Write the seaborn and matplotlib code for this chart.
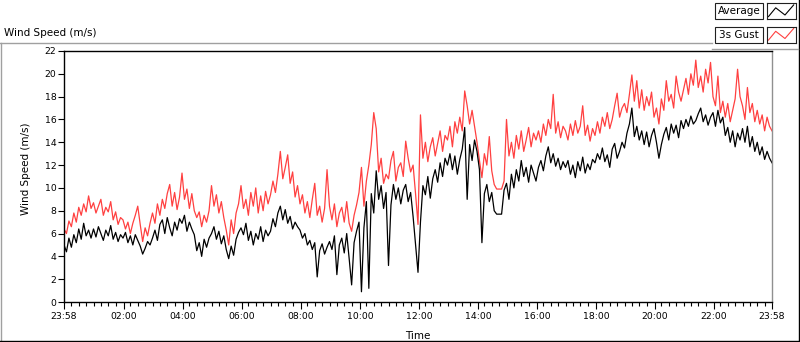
import numpy as np
import pandas as pd
import matplotlib
matplotlib.use("Agg")
import matplotlib.pyplot as plt
import matplotlib.dates as mdates
from matplotlib.lines import Line2D
from matplotlib.patches import Rectangle
import seaborn as sns

# WIND DATA - 5 minute samples, 23:58 -> 23:58 next day (one row per hour)

start_time = "2021-03-01 23:58"

avg_speed = [
    5.0, 4.4, 5.6, 4.8, 5.9, 5.2, 6.4, 5.5, 6.9, 5.8, 6.3, 5.6,
    6.4, 5.7, 6.6, 6.0, 5.4, 6.3, 5.8, 6.7, 5.5, 6.1, 5.3, 5.9,
    5.6, 6.1, 5.2, 5.8, 5.0, 5.9, 5.4, 4.9, 4.2, 4.7, 5.3, 5.0,
    5.6, 6.3, 5.4, 6.8, 7.2, 6.0, 7.4, 6.5, 5.8, 7.0, 6.3, 7.3,
    6.9, 7.6, 6.2, 7.0, 6.4, 5.9, 4.5, 5.2, 4.0, 5.5, 4.8, 5.6,
    6.0, 6.6, 5.5, 6.2, 5.1, 5.8, 4.6, 3.8, 4.9, 4.1, 5.5, 6.1,
    6.5, 5.9, 6.9, 5.4, 6.2, 5.0, 6.0, 5.5, 6.6, 5.3, 6.3, 5.8,
    6.2, 7.3, 6.6, 7.8, 8.4, 7.2, 8.1, 6.9, 7.5, 6.4, 7.0, 6.6,
    6.3, 5.6, 6.0, 5.0, 5.4, 4.6, 5.2, 2.2, 4.5, 5.1, 4.2, 4.8,
    5.3, 4.6, 5.8, 2.4, 5.0, 5.6, 4.3, 6.0, 3.8, 1.5, 5.2, 6.2,
    7.0, 0.9, 6.5, 8.8, 1.2, 9.5, 7.8, 11.5, 9.0, 10.2, 8.2, 9.6,
    3.2, 8.5, 10.3, 9.0, 10.0, 8.6, 9.8, 10.3, 8.8, 9.6, 7.5, 5.0,
    2.6, 7.0, 10.2, 9.4, 11.0, 9.1, 10.8, 11.6, 10.5, 12.2, 11.0, 12.6,
    12.0, 13.0, 11.6, 12.8, 11.2, 12.5, 13.4, 15.3, 9.0, 13.8, 12.4, 14.2,
    13.2, 11.6, 5.2, 9.5, 10.3, 8.8, 9.6, 8.0, 7.7, 7.7, 7.7, 9.8,
    10.4, 9.0, 11.2, 10.0, 11.6, 10.6, 12.4, 11.0, 11.8, 10.5, 12.0, 11.3,
    10.6, 11.8, 12.4, 11.5, 12.8, 13.6, 12.2, 13.0, 11.9, 12.6, 11.6, 12.3,
    11.8, 12.4, 11.2, 12.0, 10.9, 12.3, 11.5, 12.7, 11.3, 12.1, 11.6, 12.5,
    12.2, 13.0, 12.5, 13.5, 12.3, 12.9, 11.8, 13.4, 13.9, 12.6, 13.2, 14.0,
    13.5, 14.8, 15.6, 17.0, 14.5, 15.4, 14.2, 15.0, 13.8, 14.9, 13.6, 14.6,
    15.2, 14.0, 12.6, 13.8, 14.7, 15.3, 14.2, 15.6, 14.8, 15.5, 14.4, 15.9,
    15.2, 16.0, 15.4, 16.3, 15.6, 15.9, 16.5, 17.0, 15.8, 16.4, 15.5, 16.2,
    16.6, 15.4, 16.8, 15.7, 16.2, 14.6, 15.3, 14.0, 15.0, 13.6, 14.8, 14.2,
    15.2, 14.0, 15.4, 13.6, 14.5, 13.2, 14.0, 12.9, 13.6, 12.5, 13.2, 12.6,
    12.2,
]

gust_speed = [
    6.4, 6.0, 7.1, 6.6, 7.8, 7.0, 8.3, 7.6, 8.6, 7.9, 9.3, 8.2,
    8.7, 7.8, 8.4, 9.0, 7.6, 8.3, 7.9, 8.8, 7.2, 7.9, 6.8, 7.4,
    7.2, 6.4, 7.0, 6.0, 6.9, 7.6, 8.4, 6.8, 5.3, 6.5, 5.8, 6.9,
    7.8, 6.9, 8.6, 7.6, 9.0, 8.2, 9.5, 10.3, 8.4, 9.6, 8.1, 9.2,
    11.3, 9.0, 9.9, 8.2, 9.5, 8.0, 7.4, 7.9, 6.6, 7.6, 7.0, 8.0,
    10.2, 8.4, 9.4, 7.8, 8.8, 7.4, 6.3, 5.0, 7.2, 6.0, 7.8, 8.6,
    10.2, 8.2, 9.0, 7.6, 9.6, 8.4, 10.0, 7.8, 9.3, 8.0, 9.7, 8.6,
    9.4, 10.6, 9.6, 11.2, 13.2, 10.8, 11.8, 12.9, 10.4, 11.4, 9.2, 10.2,
    8.6, 9.4, 7.8, 8.8, 7.4, 9.0, 10.4, 7.6, 8.4, 7.0, 8.2, 11.6,
    8.4, 7.2, 8.6, 6.6, 7.8, 8.3, 7.0, 8.8, 6.9, 6.2, 7.6, 8.5,
    9.6, 11.8, 8.4, 10.6, 12.0, 13.8, 16.6, 15.2, 11.4, 12.6, 10.4, 11.2,
    10.8, 12.4, 13.2, 10.6, 11.8, 12.2, 11.0, 14.1, 12.6, 11.4, 12.0, 9.5,
    6.8, 16.4, 12.6, 14.0, 12.3, 13.6, 14.4, 12.8, 13.9, 15.0, 13.2, 14.6,
    14.2, 15.4, 13.6, 15.8, 14.8, 16.2, 15.0, 18.5, 17.2, 15.6, 16.8, 15.4,
    14.0, 12.4, 10.9, 13.0, 12.0, 14.5, 11.5, 10.3, 9.9, 9.9, 9.9, 10.6,
    16.0, 12.8, 14.0, 12.6, 14.6, 13.4, 15.0, 13.2, 14.2, 15.3, 13.6, 14.8,
    14.2, 15.0, 14.0, 15.6, 14.6, 16.0, 15.2, 18.2, 14.8, 15.8, 14.4, 15.4,
    15.0, 14.2, 15.6, 14.6, 15.9, 14.8, 15.4, 17.2, 14.6, 15.5, 14.1, 15.2,
    14.6, 15.8, 14.8, 16.2, 15.4, 16.6, 15.2, 16.0, 17.2, 18.3, 16.2, 17.0,
    17.4, 16.6, 18.2, 19.9, 17.6, 19.4, 17.0, 18.6, 16.8, 18.0, 17.2, 18.4,
    16.2, 17.0, 15.6, 17.8, 16.8, 19.4, 17.6, 18.2, 17.0, 19.8, 18.4, 17.6,
    18.6, 19.6, 18.2, 20.0, 19.0, 21.2, 18.8, 19.8, 18.4, 20.4, 19.2, 21.0,
    18.0, 17.2, 19.8, 16.6, 17.6, 16.2, 17.4, 15.8, 16.8, 17.8, 20.4, 18.0,
    17.2, 16.0, 18.8, 16.6, 17.4, 15.8, 16.8, 15.6, 16.4, 15.0, 16.2, 15.4,
    15.0,
]

series_names = ["Average", "3s Gust"]
series_colors = ["black", "#ff4040"]
y_ticks = list(range(0, 23, 2))

times = pd.date_range(start_time, periods=len(avg_speed), freq="5min")

# FIGURE

W, H = 800, 342
fig = plt.figure(figsize=(W / 100, H / 100), dpi=100)
fig.patch.set_facecolor("white")
plt.rcParams["font.family"] = ["DejaVu Sans"]


def fx(x):
    return x / W


def fy(y):
    return 1 - y / H


ax = fig.add_axes([fx(64), fy(302), fx(772) - fx(64), fy(51) - fy(302)])

sns.lineplot(x=times, y=gust_speed, color=series_colors[1], lw=0.9, ax=ax)
sns.lineplot(x=times, y=avg_speed, color=series_colors[0], lw=0.9, ax=ax)

ax.set_xlim(times[0], times[-1])
ax.set_ylim(0, 22)
ax.set_yticks(y_ticks)
ax.tick_params(axis="y", labelsize=6.7, length=4, width=0.8, pad=1.5)

# major ticks: start, every 2 hours, end
day0 = times[0].normalize() + pd.Timedelta(days=1)
majors = [times[0]] + [day0 + pd.Timedelta(hours=h) for h in range(2, 24, 2)] + [times[-1]]
minors = [times[0] + pd.Timedelta(minutes=15 * k) for k in range(1, 96)]
minors = [m for m in minors if min(abs((m - t).total_seconds()) for t in majors) > 240]
ax.set_xticks(majors)
ax.set_xticks(minors, minor=True)
ax.xaxis.set_major_formatter(mdates.DateFormatter("%H:%M"))
ax.tick_params(axis="x", which="major", labelsize=6.7, length=5, width=0.8, pad=2)
ax.tick_params(axis="x", which="minor", length=3, width=0.8)

ax.set_xlabel("Time", fontsize=7.5)
ax.set_ylabel("Wind Speed (m/s)", fontsize=7.5)
ax.xaxis.set_label_coords(0.5, -0.115)
ax.yaxis.set_label_coords(-0.047, 0.53)

for side in ["left", "bottom", "top"]:
    ax.spines[side].set_color("black")
    ax.spines[side].set_linewidth(1)
ax.spines["right"].set_color("#909090")
ax.spines["right"].set_linewidth(1)

# PANEL FRAME

frame = [
    ((0, 712), (42.5, 42.5), "#a0a0a0"),
    ((1, 1), (42.5, 341), "#a0a0a0"),
    ((0, 800), (340.5, 340.5), "black"),
    ((798.5, 798.5), (0, 341), "black"),
    ((712, 798), (48.5, 48.5), "#a0a0a0"),
]
for xs, ys, c in frame:
    fig.add_artist(Line2D([fx(xs[0]), fx(xs[1])], [fy(ys[0]), fy(ys[1])],
                          color=c, lw=1, transform=fig.transFigure))

fig.text(fx(4), fy(36), "Wind Speed (m/s)", fontsize=7.5, va="baseline", ha="left")

# LEGEND (LabVIEW style boxes)

for i, (name, color) in enumerate(zip(series_names, series_colors)):
    top = 3 + i * 23.5
    fig.add_artist(Rectangle((fx(715), fy(top + 16)), fx(763) - fx(715), fy(top) - fy(top + 16),
                             fill=True, facecolor="white", edgecolor="#202020", lw=0.8,
                             transform=fig.transFigure))
    fig.text(fx(739), fy(top + 8), name, fontsize=7.5, ha="center", va="center")
    sw = fig.add_axes([fx(767), fy(top + 16), fx(796) - fx(767), fy(top) - fy(top + 16)])
    sw.plot([0.05, 0.3, 0.62, 0.92], [0.15, 0.7, 0.25, 0.88], color=color, lw=0.8)
    sw.set_xlim(0, 1)
    sw.set_ylim(0, 1)
    sw.set_xticks([])
    sw.set_yticks([])
    for s in sw.spines.values():
        s.set_color("#202020")
        s.set_linewidth(0.8)

fig.savefig("out.png", dpi=100)
